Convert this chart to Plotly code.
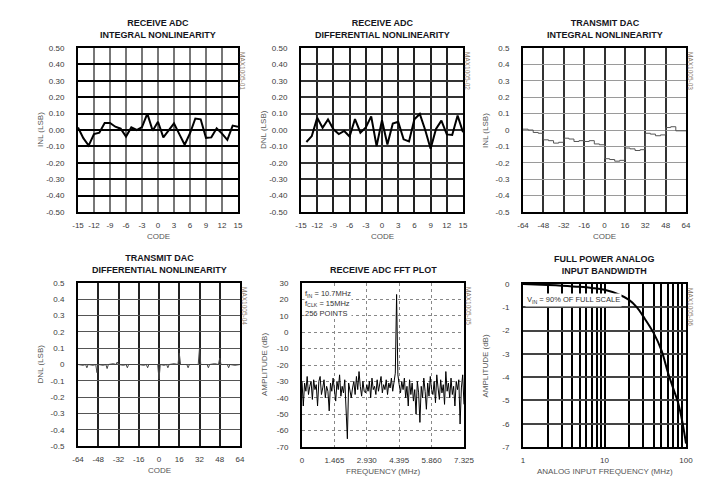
import plotly.graph_objects as go

# ---------------- data ----------------
rx_inl_codes = list(range(-15, 16))
rx_inl_vals = [0.015, -0.05, -0.095, -0.025, -0.016, 0.043, 0.043, 0.02, 0.008, -0.04,
               0.016, 0.0, 0.018, 0.10, -0.005, 0.05, -0.045, -0.005, 0.04, -0.025,
               -0.09, -0.02, 0.07, 0.065, -0.048, -0.045, 0.01, -0.022, -0.06, 0.027, 0.02]

rx_dnl_codes = list(range(-14, 16))
rx_dnl_vals = [-0.073, -0.037, 0.075, 0.014, 0.065, 0.004, -0.025, -0.006, -0.04, 0.067,
               -0.016, 0.016, 0.083, -0.098, 0.06, -0.088, 0.04, 0.05, -0.057, -0.07,
               0.065, 0.098, 0.0, -0.114, 0.006, 0.057, -0.027, -0.03, 0.088, -0.014]

tx_inl_codes = [-64, -60, -56, -52, -48, -44, -40, -36, -32, -28, -24, -20, -16, -12, -8, -4,
                0, 4, 8, 12, 16, 20, 24, 28, 32, 36, 40, 44, 48, 52, 56, 60, 64]
tx_inl_vals = [0.005, 0.0, -0.015, -0.02, -0.06, -0.065, -0.08, -0.075, -0.05, -0.055,
               -0.07, -0.065, -0.07, -0.065, -0.085, -0.09,
               -0.175, -0.18, -0.19, -0.185, -0.11, -0.115, -0.125, -0.12, -0.02, -0.025,
               -0.035, -0.03, 0.015, 0.02, -0.005, -0.005, -0.005]

tx_dnl_codes = [-64, -60, -58, -57, -56, -52, -50, -49, -48, -44,
                -42, -41, -40, -36, -34, -33, -32, -28, -26, -25,
                -24, -20, -16, -12, -10, -9, -8, -4, -1, 0,
                1, 4, 6, 7, 8, 12, 15, 16, 17, 20,
                22, 23, 24, 28, 31, 32, 33, 36, 38, 39,
                40, 44, 47, 48, 49, 52, 54, 55, 56, 60, 64]
tx_dnl_vals = [0.0, -0.005, 0.0, -0.02, 0.0, -0.005, 0.0, -0.05, 0.0, -0.005,
               0.0, -0.025, 0.0, 0.005, 0.0, 0.015, 0.0, -0.005, 0.0, -0.02,
               0.0, 0.0, 0.0, -0.005, 0.0, -0.02, 0.0, 0.0, 0.0, -0.09,
               0.0, -0.005, 0.0, -0.02, 0.0, 0.005, 0.0, 0.07, 0.0, 0.0,
               0.0, -0.02, 0.0, 0.0, 0.0, 0.1, 0.0, 0.0, 0.0, -0.02,
               0.0, 0.005, 0.0, 0.04, 0.0, 0.0, 0.0, -0.02, 0.0, -0.005, 0.0]

fclk_mhz = 15.0
fft_points = 256
fft_vals = [-30, -45, -31, -36, -27, -38, -33, -30, -41, -29,
            -35, -32, -45, -30, -27, -38, -34, -29, -40, -33,
            -36, -48, -31, -36, -28, -37, -42, -30, -35, -26,
            -39, -33, -37, -29, -44, -65, -31, -36, -40, -34,
            -30, -38, -27, -35, -24, -33, -39, -30, -36, -37,
            -32, -36, -30, -40, -28, -35, -33, -38, -29, -36,
            -31, -27, -37, -32, -35, -29, -38, -31, -34, -28,
            -36, -30, -25, 23, -26, -32, -37, -30, -35, -28,
            -40, -33, -45, -29, -38, -31, -42, -35, -50, -30,
            -37, -55, -33, -40, -28, -36, -47, -31, -39, -27,
            -35, -38, -30, -43, -26, -34, -41, -29, -37, -32,
            -44, -24, -36, -31, -40, -28, -38, -33, -45, -30,
            -35, -29, -56, -34, -26, -44]
fft_freq = [k * fclk_mhz / fft_points for k in range(len(fft_vals))]

bw_freq = [1, 2, 3, 5, 7, 10, 15, 20, 25, 30, 40, 50, 60, 70, 80, 90, 100]
bw_amp = [0, -0.04, -0.07, -0.12, -0.17, -0.25, -0.45, -0.68, -1.0, -1.4, -2.1,
          -2.85, -3.8, -4.5, -5.1, -5.9, -6.85]

# ---------------- ticks ----------------
adc_y_vals = [0.5, 0.4, 0.3, 0.2, 0.1, 0.0, -0.1, -0.2, -0.3, -0.4, -0.5]
adc_y_text = ["0.50", "0.40", "0.30", "0.20", "0.10", "0.00", "-0.10", "-0.20", "-0.30", "-0.40", "-0.50"]
dac_y_text = ["0.5", "0.4", "0.3", "0.2", "0.1", "0", "-0.1", "-0.2", "-0.3", "-0.4", "-0.5"]
adc_x_vals = [-15, -12, -9, -6, -3, 0, 3, 6, 9, 12, 15]
adc_x_text = ["-15", "-12", "-9", "-6", "-3", "0", "3", "6", "9", "12", "15"]
dac_x_vals = [-64, -48, -32, -16, 0, 16, 32, 48, 64]
dac_x_text = ["-64", "-48", "-32", "-16", "0", "16", "32", "48", "64"]
fft_x_vals = [0, 1.465, 2.930, 4.395, 5.860, 7.325]
fft_x_text = ["0", "1.465", "2.930", "4.395", "5.860", "7.325"]
fft_y_vals = [30, 20, 10, 0, -10, -20, -30, -40, -50, -60, -70]
fft_y_text = ["30", "20", "10", "0", "-10", "-20", "-30", "-40", "-50", "-60", "-70"]
bw_y_vals = [0, -1, -2, -3, -4, -5, -6, -7]
bw_y_text = ["0", "-1", "-2", "-3", "-4", "-5", "-6", "-7"]
bw_x_vals = [1, 2, 3, 4, 5, 6, 7, 8, 9, 10, 20, 30, 40, 50, 60, 70, 80, 90, 100]
bw_x_text = ["1", " ", " ", " ", " ", " ", " ", " ", " ", "10", " ", " ", " ", " ", " ", " ", " ", " ", "100"]

titles = ["RECEIVE ADC<br>INTEGRAL NONLINEARITY",
          "RECEIVE ADC<br>DIFFERENTIAL NONLINEARITY",
          "TRANSMIT DAC<br>INTEGRAL NONLINEARITY",
          "TRANSMIT DAC<br>DIFFERENTIAL NONLINEARITY",
          "RECEIVE ADC FFT PLOT",
          "FULL POWER ANALOG<br>INPUT BANDWIDTH"]
y_titles = ["INL (LSB)", "DNL (LSB)", "INL (LSB)", "DNL (LSB)", "AMPLITUDE (dB)", "AMPLITUDE (dB)"]
x_titles = ["CODE", "CODE", "CODE", "CODE", "FREQUENCY (MHz)", "ANALOG INPUT FREQUENCY (MHz)"]
ids = ["MAX1005-01", "MAX1005-02", "MAX1005-03", "MAX1005-04", "MAX1005-05", "MAX1005-06"]

# ---------------- layout ----------------
W, H = 702, 502
FONT = "Liberation Sans Narrow, Arial Narrow, Liberation Sans, Arial, sans-serif"
TICK_COLOR = "#3a3a3a"
LBL_COLOR = "#555555"
TICK_SIZE = 8
TITLE_SIZE = 9

# plot boxes in pixels: (left, right, top, bottom)
boxes = [(78, 238, 48, 212), (301, 463, 48, 212), (523, 686, 48, 212),
         (78, 240, 283, 446), (302, 464, 283, 447), (523, 686, 284, 447)]


def xd(px):
    return px / W


def yd(px):
    return 1 - px / H


fig = go.Figure()

line_styles = [dict(color="black", width=2), dict(color="black", width=2),
               dict(color="#555555", width=1, shape="hv"), dict(color="#444444", width=1),
               dict(color="black", width=1), dict(color="black", width=2, shape="spline")]
series = [(rx_inl_codes, rx_inl_vals), (rx_dnl_codes, rx_dnl_vals), (tx_inl_codes, tx_inl_vals),
          (tx_dnl_codes, tx_dnl_vals), (fft_freq, fft_vals), (bw_freq, bw_amp)]

for i, (xs, ys) in enumerate(series):
    n = "" if i == 0 else str(i + 1)
    fig.add_trace(go.Scatter(x=xs, y=ys, mode="lines", line=line_styles[i],
                             xaxis="x" + n, yaxis="y" + n, showlegend=False, hoverinfo="skip"))

axis_cfg = [
    (dict(range=[-15, 15], tickvals=adc_x_vals, ticktext=adc_x_text, gridcolor="#777777", gridwidth=2),
     dict(range=[-0.5, 0.5], tickvals=adc_y_vals, ticktext=adc_y_text, gridcolor="black", gridwidth=1.5)),
    (dict(range=[-15, 15], tickvals=adc_x_vals, ticktext=adc_x_text, gridcolor="#222222", gridwidth=2),
     dict(range=[-0.5, 0.5], tickvals=adc_y_vals, ticktext=adc_y_text, gridcolor="#333333", gridwidth=1.5)),
    (dict(range=[-64, 64], tickvals=dac_x_vals, ticktext=dac_x_text, gridcolor="#333333", gridwidth=1.5),
     dict(range=[-0.5, 0.5], tickvals=adc_y_vals, ticktext=dac_y_text, gridcolor="#9a9a9a", gridwidth=1)),
    (dict(range=[-64, 64], tickvals=dac_x_vals, ticktext=dac_x_text, gridcolor="#222222", gridwidth=1.5),
     dict(range=[-0.5, 0.5], tickvals=adc_y_vals, ticktext=dac_y_text, gridcolor="#555555", gridwidth=1)),
    (dict(range=[0, 7.325], tickvals=fft_x_vals, ticktext=fft_x_text, gridcolor="#888888", gridwidth=1, griddash="dot"),
     dict(range=[-70, 30], tickvals=fft_y_vals, ticktext=fft_y_text, gridcolor="#888888", gridwidth=1, griddash="dot")),
    (dict(type="log", range=[0, 2], tickvals=bw_x_vals, ticktext=bw_x_text, gridcolor="black", gridwidth=1.5),
     dict(range=[-7, 0], tickvals=bw_y_vals, ticktext=bw_y_text, gridcolor="#444444", gridwidth=1.5)),
]

layout = dict(width=W, height=H, autosize=False,
              margin=dict(l=0, r=0, t=0, b=0, pad=0, autoexpand=False),
              paper_bgcolor="white", plot_bgcolor="white", showlegend=False,
              font=dict(family=FONT, size=TICK_SIZE, color=TICK_COLOR))

annotations = []
for i, (l, r, t, b) in enumerate(boxes):
    n = "" if i == 0 else str(i + 1)
    xc, yc = axis_cfg[i]
    xa = dict(domain=[xd(l), xd(r)], anchor="y" + n, showgrid=True, zeroline=False,
              showline=True, mirror=True, linecolor="black", linewidth=2,
              ticks="", tickangle=0, automargin=False, ticklabelstandoff=4,
              tickfont=dict(size=TICK_SIZE, color=TICK_COLOR))
    xa.update(xc)
    ya = dict(domain=[yd(b), yd(t)], anchor="x" + n, showgrid=True, zeroline=False,
              showline=True, mirror=True, linecolor="black", linewidth=2,
              ticks="", automargin=False, ticklabelstandoff=10,
              tickfont=dict(size=TICK_SIZE, color=TICK_COLOR))
    ya.update(yc)
    layout["xaxis" + n] = xa
    layout["yaxis" + n] = ya

    xmid = (l + r) / 2
    ymid = (t + b) / 2
    title_y = t - 19 if "<br>" in titles[i] else t - 13
    annotations.append(dict(text=titles[i], x=xd(xmid), y=yd(title_y),
                            xref="paper", yref="paper", showarrow=False, xanchor="center",
                            yanchor="middle",
                            font=dict(size=TITLE_SIZE, color="#151520", weight="bold")))
    annotations.append(dict(text=y_titles[i], x=xd(l - 38), y=yd(ymid), xref="paper", yref="paper",
                            showarrow=False, textangle=-90, xanchor="center", yanchor="middle",
                            font=dict(size=TICK_SIZE, color=LBL_COLOR)))
    annotations.append(dict(text=x_titles[i], x=xd(xmid), y=yd(b + 24), xref="paper", yref="paper",
                            showarrow=False, xanchor="center", yanchor="middle",
                            font=dict(size=TICK_SIZE, color=LBL_COLOR)))
    annotations.append(dict(text=ids[i], x=xd(r + 5), y=yd(t + 2), xref="paper", yref="paper",
                            showarrow=False, textangle=90, xanchor="center", yanchor="top",
                            font=dict(size=6.5, color="#8a7a6a")))

annotations.append(dict(text="f<sub>IN</sub> = 10.7MHz<br>f<sub>CLK</sub> = 15MHz<br>256 POINTS",
                        x=0.1, y=27, xref="x5", yref="y5", showarrow=False, align="left",
                        xanchor="left", yanchor="top", bgcolor="white", borderpad=0,
                        font=dict(size=7.5, color="#333333")))
annotations.append(dict(text="V<sub>IN</sub> = 90% OF FULL SCALE",
                        x=0.03, y=-0.7, xref="x6", yref="y6", showarrow=False, align="left",
                        xanchor="left", yanchor="middle", bgcolor="white", borderpad=1,
                        font=dict(size=7.5, color="#333333")))

layout["annotations"] = annotations
fig.update_layout(**layout)
fig.write_html("out.html", config={"displayModeBar": False},
               post_script="document.body.style.margin='0px';")
